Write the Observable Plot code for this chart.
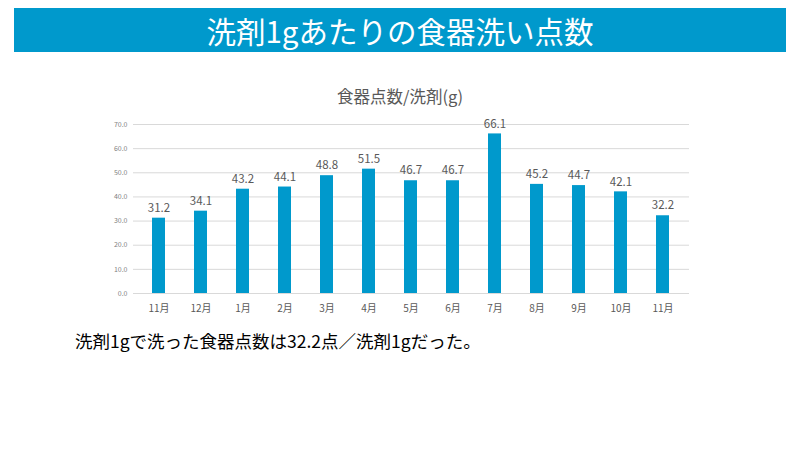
<!DOCTYPE html>
<html>
<head>
<meta charset="utf-8">
<script src="https://cdn.jsdelivr.net/npm/d3@7"></script>
<script src="https://cdn.jsdelivr.net/npm/@observablehq/plot@0.6"></script>
<style>
  html, body { margin: 0; padding: 0; background: #fff; }
  #wrap { position: relative; width: 800px; height: 450px; overflow: hidden; font-family: "Noto Sans CJK JP", "Noto Sans", sans-serif; }
  #banner { position: absolute; left: 14px; top: 8px; width: 772px; height: 44px; background: #0099cc; color: #fff; font-size: 29.5px; line-height: 44px; text-align: center; }
  #ctitle { position: absolute; left: 0; width: 800px; top: 84px; text-align: center; font-size: 16.5px; color: #595959; }
  #note { position: absolute; left: 75px; top: 328px; font-size: 17.5px; color: #000; }
  #chart { position: absolute; left: 0; top: 0; }
</style>
</head>
<body>
<div id="wrap">
  <div id="chart"></div>
  <div id="banner">洗剤1gあたりの食器洗い点数</div>
  <div id="ctitle">食器点数/洗剤(g)</div>
  <div id="note">洗剤1gで洗った食器点数は32.2点／洗剤1gだった。</div>
</div>
<script>
const months = ["11月","12月","1月","2月","3月","4月","5月","6月","7月","8月","9月","10月","11月"];
const values = [31.2, 34.1, 43.2, 44.1, 48.8, 51.5, 46.7, 46.7, 66.1, 45.2, 44.7, 42.1, 32.2];
const yTicks = [0, 10, 20, 30, 40, 50, 60, 70];

const data = months.map((m, i) => ({i, m, v: values[i]}));

const chart = Plot.plot({
  width: 800,
  height: 450,
  marginLeft: 133,
  marginRight: 111,
  marginTop: 124,
  marginBottom: 157,
  style: {fontFamily: '"Noto Sans CJK JP", "Noto Sans", sans-serif', background: "transparent"},
  x: {domain: d3.range(months.length), paddingInner: 0.69, paddingOuter: 0.345, tickFormat: i => months[i], label: null},
  y: {domain: [0, 70], ticks: yTicks, tickFormat: d3.format(".1f"), label: null},
  marks: [
    Plot.gridY(yTicks, {stroke: "#d9d9d9", strokeOpacity: 1}),
    Plot.barY(data, {x: "i", y: "v", fill: "#0099cc"}),
    Plot.text(data, {x: "i", y: "v", text: d => d.v.toFixed(1), dy: -10, fill: "#595959", fontSize: 11.5}),
    Plot.axisY(yTicks, {tickSize: 0, tickPadding: 6, fontSize: 7, color: "#7f7f7f", tickFormat: d3.format(".1f"), label: null}),
    Plot.axisX(d3.range(months.length), {tickSize: 0, tickPadding: 11, fontSize: 10, color: "#595959", tickFormat: i => months[i], label: null})
  ]
});
document.getElementById("chart").appendChild(chart);
</script>
</body>
</html>
